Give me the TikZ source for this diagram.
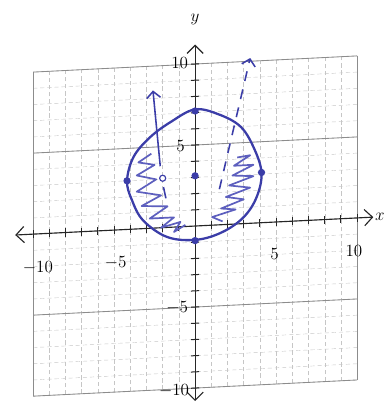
\documentclass[tikz,border=0pt]{standalone}
\usepackage{tikz}
\usetikzlibrary{arrows.meta}
\definecolor{PenInk}{HTML}{3B3DA8}
\definecolor{HatchInk}{HTML}{5D5FBE}
\definecolor{GridInk}{gray}{0.55}
\tikzset{
  sheet/.style={x=0.4cm,y=0.4cm,font=\large},
  minorgrid/.style={draw=GridInk!50,densely dashed,line width=0.3pt},
  majorgrid/.style={draw=GridInk,line width=0.6pt},
  axis/.style={{Straight Barb[length=2mm,width=4mm]}-{Straight Barb[length=2mm,width=4mm]},line width=0.8pt,draw=black!85},
  tick/.style={line width=0.7pt,draw=black!85},
  pen/.style={draw=PenInk,line width=1.6pt},
  hatch/.style={draw=HatchInk,line width=1.2pt,line join=round},
  ray/.style={draw=PenInk,line width=1.1pt,-{Straight Barb[length=1.6mm,width=3.4mm]}},
  dot/.style={circle,fill=PenInk,inner sep=0pt,minimum size=1.8mm},
  ring/.style={circle,draw=PenInk,line width=0.8pt,fill=white,inner sep=0pt,minimum size=1.5mm},
}
\begin{document}
\begin{tikzpicture}[sheet]
  \useasboundingbox (-12.04,-11.23) rectangle (11.73,13.95);
  \begin{scope}[yslant=0.05]
  \foreach \g in {-10,...,10} {
    \draw[minorgrid] (\g,-10) -- (\g,10);
    \draw[minorgrid] (-10,\g) -- (10,\g);
  }
  \foreach \g in {-10,10}
    \draw[majorgrid] (\g,-10) -- (\g,10);
  \foreach \g in {-10,-5,5,10}
    \draw[majorgrid] (-10,\g) -- (10,\g);

  \coordinate (xl) at (-11.1,0);
  \coordinate (xr) at (11.0,0);
  \coordinate (yb) at (0,-10.8);
  \coordinate (yt) at (0,11.2);
  \draw[axis] (xl) -- (xr);
  \draw[axis] (yb) -- (yt);
  \foreach \t in {-10,...,-1,1,2,...,10} {
    \draw[tick] (\t,-0.25) -- (\t,0.25);
    \draw[tick] (-0.25,\t) -- (0.25,\t);
  }
  \node[right=0pt,inner sep=1pt] (xlab) at (xr) {$x$};
  \node[above=10pt] (ylab) at (yt) {$y$};

  \node (xm10) at (-9.7,-2.1) {$-10$};
  \node (xm5) at (-4.9,-2.0) {$-5$};
  \node (xp5) at (4.9,-2.0) {5};
  \node (xp10) at (9.8,-2.0) {10};
  \node (yp10) at (-0.95,10.1) {10};
  \node (yp5) at (-0.9,5.0) {5};
  \node (ym5) at (-1.1,-5.0) {$-5$};
  \node (ym10) at (-1.3,-10.1) {$-10$};

  \draw[hatch] (-2.7,4.6) -- (-3.5,4.1) -- (-2.5,3.9) -- (-3.6,3.3) -- (-2.4,3.0)
    -- (-3.6,2.3) -- (-2.1,2.0) -- (-3.3,1.4) -- (-1.7,1.3) -- (-2.8,0.6)
    -- (-1.3,0.6) -- (-2.1,0.0) -- (-0.9,0.3) -- (-1.3,-0.3) -- (-0.6,0.1);
  \draw[hatch] (2.6,4.1) -- (3.4,4.2) -- (2.4,3.6) -- (3.6,3.6) -- (2.3,3.0)
    -- (3.6,2.9) -- (2.1,2.4) -- (3.4,2.2) -- (1.9,1.7) -- (3.0,1.5)
    -- (1.6,1.0) -- (2.5,0.9) -- (1.05,0.5) -- (1.7,0.2);

  \draw[pen] plot[smooth cycle,tension=0.6] coordinates {
    (0,7.2) (1.5,6.8) (2.8,6.0) (3.6,4.7) (4.1,3.1) (3.8,1.6)
    (3.0,0.4) (1.7,-0.45) (0.1,-0.85) (-1.7,-0.6) (-3.2,0.5)
    (-3.9,1.8) (-4.2,3.0) (-3.8,4.45) (-2.8,5.6) (-1.5,6.5)};

  \coordinate (lfoot) at (-1.8,1.8);
  \coordinate (lknee) at (-1.95,2.5);
  \coordinate (lbase) at (-2.15,3.8);
  \coordinate (ltip) at (-2.6,8.5);
  \coordinate (rbase) at (1.5,2.2);
  \coordinate (rtip) at (3.4,10.2);
  \draw[ray,-] (lfoot) -- (lknee);
  \draw[ray] (lbase) -- (ltip);
  \draw[ray,dash pattern=on 7pt off 6pt] (rbase) -- (rtip);

  \node[dot] (top) at (0,7.1) {};
  \node[dot] (right) at (4.1,3.1) {};
  \node[dot] (bottom) at (0,-0.9) {};
  \node[dot] (left) at (-4.2,3.0) {};
  \node[dot] (centre) at (0,3.1) {};
  \node[ring] (inner) at (-2,3.05) {};
  \end{scope}
\end{tikzpicture}
\end{document}
